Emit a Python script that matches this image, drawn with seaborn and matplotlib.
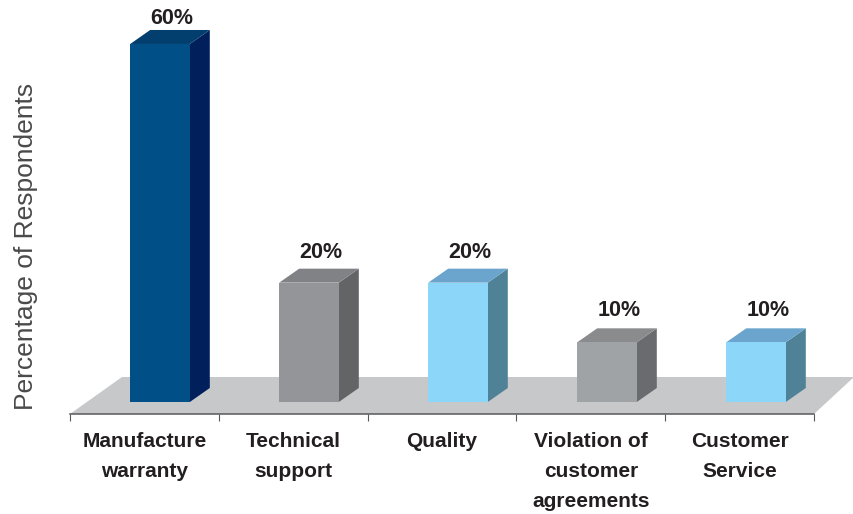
import matplotlib
matplotlib.use('Agg')
import matplotlib.pyplot as plt
from matplotlib.patches import Polygon
from matplotlib.transforms import IdentityTransform
import seaborn as sns

categories = ['Manufacture\nwarranty', 'Technical\nsupport', 'Quality',
              'Violation of\ncustomer\nagreements', 'Customer\nService']
values = [60, 20, 20, 10, 10]
value_labels = ['60%', '20%', '20%', '10%', '10%']

front_colors = ['#004f86', '#939598', '#8cd6f9', '#a0a3a6', '#8cd6f9']
side_colors = ['#001f5b', '#636466', '#4f8197', '#6a6b6f', '#4f8197']
top_colors = ['#023f6e', '#808285', '#6ba5cd', '#8a8b8d', '#6ba5cd']
label_gaps = [20, 25, 25, 26, 26]

W, H = 854, 514
sns.set_style('white')
plt.rcParams['font.family'] = ['Liberation Sans', 'DejaVu Sans']

fig = plt.figure(figsize=(W / 100, H / 100), dpi=100)
ax = fig.add_axes([70 / W, (H - 414) / H, 744 / W, 414 / H])
ax.patch.set_alpha(0)

sns.barplot(x=categories, y=values, hue=categories, palette=front_colors,
            width=0.4, saturation=1, legend=False, linewidth=0, zorder=3, ax=ax)

# layout: 149 px per category, 5.967 px per percent
ax.set_xlim(-90 / 149, 654 / 149)
ax.set_ylim(-12 / 5.967, 402 / 5.967)

# floor drawn in pixels behind the bars
floor = [(70, 414), (814, 414), (854, 377), (122, 377)]
ax.add_patch(Polygon([(x, H - y) for x, y in floor], closed=True, facecolor='#c7c8ca',
                     edgecolor='none', transform=IdentityTransform(), clip_on=False, zorder=1))

# fake 3d sides and tops from each bar's own box
dx, dy = 20, 14
fig.canvas.draw()
for bar, side, top, txt, gap in zip(ax.patches, side_colors, top_colors, value_labels, label_gaps):
    if bar.get_height() == 0:
        continue
    (x0, y0), (x1, y1) = ax.transData.transform([(bar.get_x(), 0),
                                                 (bar.get_x() + bar.get_width(), bar.get_height())])
    ax.add_patch(Polygon([(x1, y0), (x1 + dx, y0 + dy), (x1 + dx, y1 + dy), (x1, y1)],
                         facecolor=side, edgecolor='none', transform=IdentityTransform(),
                         clip_on=False, zorder=2))
    ax.add_patch(Polygon([(x0, y1), (x1, y1), (x1 + dx, y1 + dy), (x0 + dx, y1 + dy)],
                         facecolor=top, edgecolor='none', transform=IdentityTransform(),
                         clip_on=False, zorder=2))
    ax.annotate(txt, (bar.get_x() + bar.get_width() / 2, bar.get_height()),
                xytext=(12, gap), textcoords='offset pixels', ha='center', va='baseline',
                fontsize=15.5, fontweight='bold', color='#231f20', annotation_clip=False)

sns.despine(ax=ax, left=True, top=True, right=True)
ax.spines['bottom'].set_color('#58595b')
ax.spines['bottom'].set_linewidth(1.1)
ax.spines['bottom'].set_zorder(2)

n = len(categories)
edges = [(-90 + 148.8 * i) / 149 for i in range(n + 1)]
ax.set_xticks(edges)
ax.set_xticklabels([])
ax.set_xticks([(a + b) / 2 for a, b in zip(edges, edges[1:])], minor=True)
ax.set_xticklabels(categories, minor=True, fontsize=15, fontweight='bold',
                   color='#231f20', linespacing=1.72)
ax.tick_params(axis='x', which='major', bottom=True, length=5, width=0.8, color='#58595b')
ax.tick_params(axis='x', which='minor', bottom=False, length=0, pad=13)
ax.set_yticks([])

ax.set_ylabel('Percentage of Respondents', fontsize=19, color='#4a4a4a')
ax.yaxis.set_label_coords(-32 / 744, 168 / 414)

plt.savefig('out.png', dpi=100)
